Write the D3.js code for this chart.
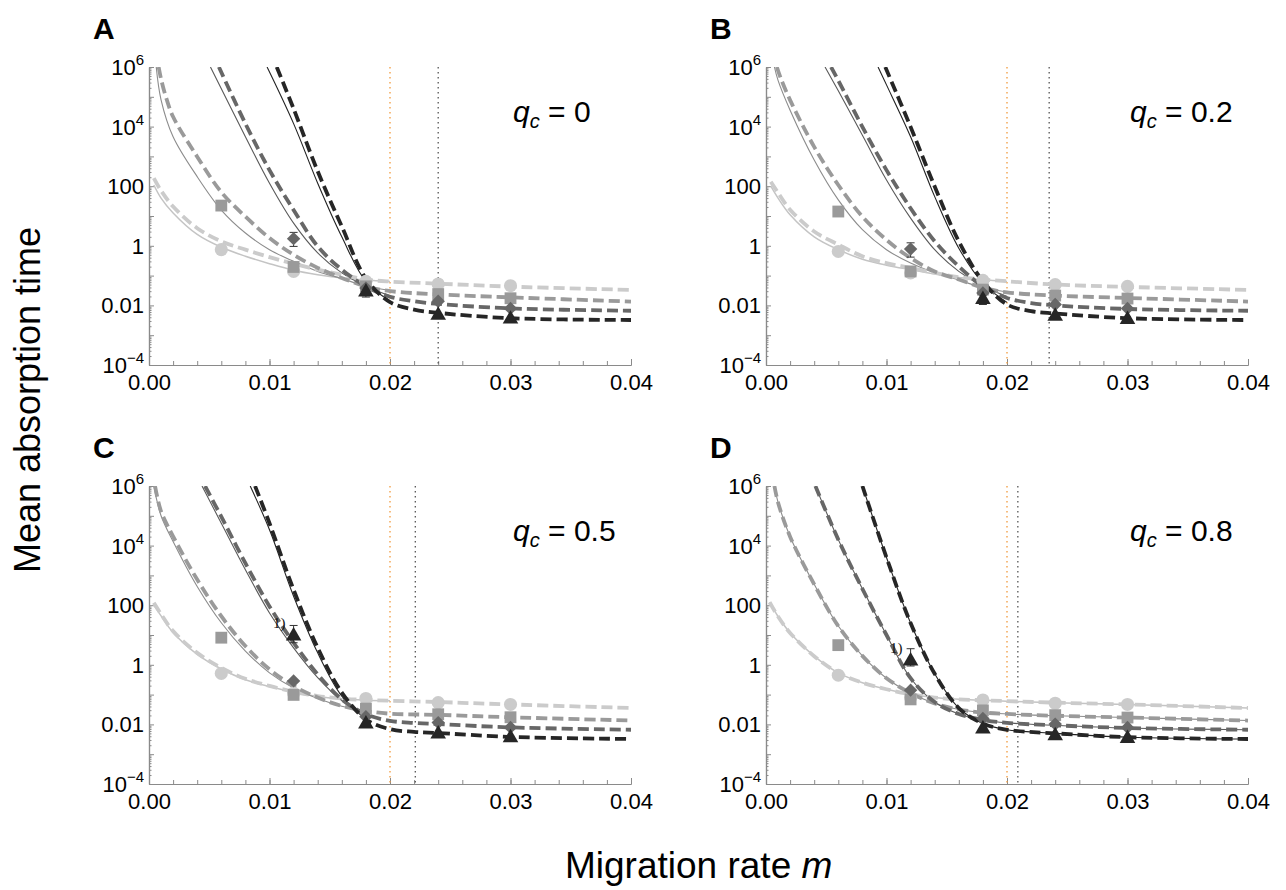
<!DOCTYPE html>
<html>
<head>
<meta charset="utf-8">
<script src="https://cdn.jsdelivr.net/npm/d3@7"></script>
<style>
body { margin: 0; background: #fff; }
svg { font-family: "Liberation Sans", Arial, Helvetica, sans-serif; }
</style>
</head>
<body>
<div class="chart"></div>
<script>
var svgWidth = 1286;
var svgHeight = 890;
var plotWidth = 482;
var plotHeight = 298;
var panelLeft = [149, 766, 149, 766];
var panelTop = [67, 67, 486, 486];

// labels and ticks
var panelLetters = ["A", "B", "C", "D"];
var qcLabels = ["0", "0.2", "0.5", "0.8"];
var mTicks = [0, 0.01, 0.02, 0.03, 0.04];
var yTickExps = [6, 4, 2, 0, -2, -4];
var yTickLabels = [["10", "6"], ["10", "4"], ["100", ""], ["1", ""], ["0.01", ""], ["10", "\u22124"]];
var orangeLineM = 0.02;
var criticalM = [0.024, 0.0235, 0.0221, 0.0209];

// simulated points (log10 of mean absorption time) at these migration rates
var simM = [0.006, 0.012, 0.018, 0.024, 0.03];
var circlesA = [-0.13, -0.86, -1.19, -1.28, -1.34];
var squaresA = [1.35, -0.71, -1.36, -1.62, -1.76];
var diamondsA = [null, 0.24, -1.42, -1.86, -2.1];
var trianglesA = [null, null, -1.5, -2.28, -2.41];
var circlesB = [-0.19, -0.91, -1.16, -1.3, -1.36];
var squaresB = [1.15, -0.86, -1.47, -1.67, -1.77];
var diamondsB = [null, -0.11, -1.58, -1.97, -2.1];
var trianglesB = [null, null, -1.75, -2.31, -2.42];
var circlesC = [-0.29, -0.95, -1.13, -1.27, -1.33];
var squaresC = [0.91, -1.01, -1.47, -1.66, -1.76];
var diamondsC = [null, -0.54, -1.74, -1.94, -2.1];
var trianglesC = [null, 1.02, -1.94, -2.27, -2.4];
var circlesD = [-0.35, -1.1, -1.18, -1.29, -1.33];
var squaresD = [0.66, -1.16, -1.53, -1.69, -1.77];
var diamondsD = [null, -0.85, -1.8, -1.99, -2.1];
var trianglesD = [null, 0.18, -2.1, -2.33, -2.42];

// error bars [m, low, high] (log10)
var errorsA = [[0.012, -0.02, 0.45], [0.018, -1.72, -1.08]];
var errorsB = [[0.012, -0.38, 0.1], [0.018, -1.97, -1.38]];
var errorsC = [[0.012, 0.74, 1.32], [0.018, -2.1, -1.7]];
var errorsD = [[0.012, -0.04, 0.54], [0.018, -2.2, -1.85]];

// "1)" footnote next to a point
var noteM = [null, null, 0.012, 0.012];
var noteV = [null, null, 1.02, 0.18];

// approximation curves [m, log10 time], dashed
var lightDashA = [[0.0004, 2.27], [0.001, 1.85], [0.002, 1.32], [0.004, 0.59], [0.006, 0.15], [0.008, -0.13], [0.010, -0.38], [0.012, -0.6], [0.014, -0.8], [0.016, -0.97], [0.018, -1.13], [0.020, -1.2], [0.024, -1.27], [0.03, -1.37], [0.04, -1.48]];
var mediumDashA = [[0.0008, 6], [0.001, 5.6], [0.0014, 5.0], [0.002, 4.33], [0.004, 2.99], [0.006, 1.8], [0.008, 0.98], [0.010, 0.26], [0.012, -0.3], [0.014, -0.74], [0.016, -1.08], [0.018, -1.36], [0.020, -1.52], [0.024, -1.63], [0.03, -1.73], [0.04, -1.87]];
var darkDashA = [[0.0058, 6], [0.008, 4.1], [0.010, 2.54], [0.012, 1.2], [0.014, -0.02], [0.016, -0.8], [0.018, -1.36], [0.020, -1.71], [0.022, -1.86], [0.024, -1.95], [0.03, -2.1], [0.04, -2.18]];
var blackDashA = [[0.0106, 6], [0.012, 4.6], [0.014, 2.5], [0.016, 0.65], [0.018, -1.1], [0.020, -1.89], [0.022, -2.14], [0.024, -2.25], [0.03, -2.43], [0.04, -2.49]];
var lightDashB = [[0.0004, 2.15], [0.001, 1.78], [0.002, 1.21], [0.004, 0.48], [0.006, 0.04], [0.008, -0.35], [0.010, -0.58], [0.012, -0.74], [0.014, -0.91], [0.016, -1.05], [0.018, -1.13], [0.020, -1.19], [0.024, -1.3], [0.03, -1.38], [0.04, -1.48]];
var mediumDashB = [[0.0009, 6], [0.0012, 5.65], [0.002, 4.89], [0.004, 3.32], [0.006, 2.04], [0.008, 0.98], [0.010, 0.2], [0.012, -0.41], [0.014, -0.86], [0.016, -1.13], [0.018, -1.41], [0.020, -1.56], [0.024, -1.67], [0.03, -1.75], [0.04, -1.87]];
var darkDashB = [[0.0054, 6], [0.006, 5.55], [0.008, 3.99], [0.010, 2.54], [0.012, 1.26], [0.014, 0.15], [0.016, -0.69], [0.018, -1.36], [0.020, -1.75], [0.022, -1.92], [0.024, -2.0], [0.03, -2.12], [0.04, -2.18]];
var blackDashB = [[0.0099, 6], [0.012, 3.99], [0.014, 1.99], [0.016, 0.15], [0.018, -1.19], [0.020, -1.97], [0.022, -2.19], [0.024, -2.27], [0.03, -2.43], [0.04, -2.49]];
var lightDashC = [[0.0004, 2.08], [0.001, 1.7], [0.002, 1.13], [0.004, 0.4], [0.006, -0.1], [0.008, -0.47], [0.010, -0.71], [0.012, -0.9], [0.014, -1.05], [0.016, -1.13], [0.018, -1.18], [0.024, -1.25], [0.03, -1.33], [0.04, -1.45]];
var mediumDashC = [[0.0005, 6], [0.001, 5.15], [0.002, 4.31], [0.004, 2.86], [0.006, 1.63], [0.008, 0.63], [0.010, -0.15], [0.012, -0.71], [0.014, -1.1], [0.016, -1.38], [0.018, -1.55], [0.020, -1.64], [0.024, -1.68], [0.03, -1.76], [0.04, -1.87]];
var darkDashC = [[0.00465, 6], [0.006, 4.97], [0.008, 3.41], [0.010, 1.96], [0.012, 0.74], [0.014, -0.32], [0.016, -1.16], [0.018, -1.66], [0.020, -1.88], [0.022, -1.95], [0.024, -1.99], [0.03, -2.1], [0.04, -2.18]];
var blackDashC = [[0.0088, 6], [0.010, 4.75], [0.012, 2.52], [0.014, 0.57], [0.016, -0.93], [0.018, -1.83], [0.020, -2.16], [0.022, -2.25], [0.024, -2.29], [0.03, -2.42], [0.04, -2.49]];
var lightDashD = [[0.0003, 2.1], [0.001, 1.62], [0.002, 1.07], [0.004, 0.29], [0.006, -0.27], [0.008, -0.6], [0.010, -0.82], [0.012, -0.99], [0.014, -1.1], [0.016, -1.16], [0.018, -1.19], [0.020, -1.22], [0.024, -1.27], [0.03, -1.33], [0.04, -1.45]];
var mediumDashD = [[0.0007, 6], [0.001, 5.45], [0.002, 4.3], [0.004, 2.7], [0.006, 1.3], [0.008, 0.3], [0.010, -0.45], [0.012, -0.95], [0.014, -1.3], [0.016, -1.5], [0.018, -1.6], [0.020, -1.65], [0.024, -1.71], [0.03, -1.77], [0.04, -1.87]];
var darkDashD = [[0.0041, 6], [0.006, 4.2], [0.008, 2.55], [0.010, 1.0], [0.012, -0.45], [0.014, -1.25], [0.016, -1.65], [0.018, -1.85], [0.020, -1.95], [0.024, -2.03], [0.03, -2.12], [0.04, -2.18]];
var blackDashD = [[0.0080, 6], [0.010, 3.6], [0.012, 1.4], [0.014, -0.3], [0.016, -1.45], [0.018, -1.97], [0.020, -2.18], [0.024, -2.3], [0.03, -2.43], [0.04, -2.49]];

// second approximation, thin solid
var lightSolidA = [[0.0004, 2.04], [0.001, 1.6], [0.002, 1.1], [0.004, 0.38], [0.006, -0.05], [0.008, -0.35], [0.010, -0.6], [0.012, -0.82], [0.014, -0.97], [0.016, -1.08], [0.018, -1.15], [0.020, -1.2]];
var mediumSolidA = [[0.0006, 6], [0.001, 4.9], [0.002, 3.66], [0.004, 2.32], [0.006, 1.2], [0.008, 0.43], [0.010, -0.13], [0.012, -0.52], [0.014, -0.86], [0.016, -1.1], [0.018, -1.36], [0.020, -1.5]];
var darkSolidA = [[0.0051, 6], [0.008, 3.66], [0.010, 2.1], [0.012, 0.76], [0.014, -0.24], [0.016, -0.91], [0.018, -1.36], [0.020, -1.68]];
var blackSolidA = [[0.0098, 6], [0.012, 4.1], [0.014, 2.1], [0.016, 0.3], [0.018, -1.2], [0.020, -1.85]];
var lightSolidB = [[0.0004, 2.0], [0.001, 1.6], [0.002, 1.04], [0.004, 0.3], [0.006, -0.13], [0.008, -0.45], [0.010, -0.65], [0.012, -0.8], [0.014, -0.94], [0.016, -1.06], [0.018, -1.14], [0.020, -1.2]];
var mediumSolidB = [[0.0007, 6], [0.001, 5.55], [0.002, 4.55], [0.004, 2.88], [0.006, 1.54], [0.008, 0.54], [0.010, -0.13], [0.012, -0.58], [0.014, -0.91], [0.016, -1.15], [0.018, -1.41], [0.020, -1.55]];
var darkSolidB = [[0.0049, 6], [0.006, 5.2], [0.008, 3.71], [0.010, 2.21], [0.012, 0.93], [0.014, -0.13], [0.016, -0.86], [0.018, -1.36], [0.020, -1.7]];
var blackSolidB = [[0.0093, 6], [0.010, 5.4], [0.012, 3.66], [0.014, 1.65], [0.016, -0.08], [0.018, -1.25], [0.020, -1.9]];
var lightSolidC = [[0.0004, 2.0], [0.001, 1.64], [0.002, 1.08], [0.004, 0.35], [0.006, -0.14], [0.008, -0.5], [0.010, -0.73], [0.012, -0.92], [0.014, -1.06], [0.016, -1.14], [0.018, -1.19], [0.020, -1.21]];
var mediumSolidC = [[0.0004, 6], [0.001, 5.0], [0.002, 4.14], [0.004, 2.63], [0.006, 1.41], [0.008, 0.46], [0.010, -0.27], [0.012, -0.78], [0.014, -1.13], [0.016, -1.39], [0.018, -1.55]];
var darkSolidC = [[0.0044, 6], [0.006, 4.75], [0.008, 3.19], [0.010, 1.74], [0.012, 0.57], [0.014, -0.43], [0.016, -1.2], [0.018, -1.66]];
var blackSolidC = [[0.0084, 6], [0.010, 4.53], [0.012, 2.3], [0.014, 0.4], [0.016, -1.05], [0.018, -1.83]];
// in D both approximations coincide
var lightSolidD = lightDashD;
var mediumSolidD = mediumDashD;
var darkSolidD = darkDashD;
var blackSolidD = blackDashD;

var seriesColor = ["#cbcbcb", "#9a9a9a", "#676767", "#262626"];
var solidColor = ["#c4c4c4", "#8c8c8c", "#5a5a5a", "#222222"];

var panels = [
    { points: [circlesA, squaresA, diamondsA, trianglesA], dash: [lightDashA, mediumDashA, darkDashA, blackDashA], solid: [lightSolidA, mediumSolidA, darkSolidA, blackSolidA], errors: errorsA },
    { points: [circlesB, squaresB, diamondsB, trianglesB], dash: [lightDashB, mediumDashB, darkDashB, blackDashB], solid: [lightSolidB, mediumSolidB, darkSolidB, blackSolidB], errors: errorsB },
    { points: [circlesC, squaresC, diamondsC, trianglesC], dash: [lightDashC, mediumDashC, darkDashC, blackDashC], solid: [lightSolidC, mediumSolidC, darkSolidC, blackSolidC], errors: errorsC },
    { points: [circlesD, squaresD, diamondsD, trianglesD], dash: [lightDashD, mediumDashD, darkDashD, blackDashD], solid: [lightSolidD, mediumSolidD, darkSolidD, blackSolidD], errors: errorsD }
];

var svg = d3.select(".chart").append("svg")
    .attr("width", svgWidth)
    .attr("height", svgHeight);

var xScale = d3.scaleLinear().domain([0, 0.04]).range([0, plotWidth]);
var yScale = d3.scaleLog().domain([1e-4, 1e6]).range([plotHeight, 0]);
var pow = function (v) { return Math.pow(10, v); };

var line = d3.line()
    .x(d => xScale(d[0]))
    .y(d => yScale(pow(d[1])))
    .curve(d3.curveCatmullRom.alpha(0.5));

var minorX = d3.range(0, 0.0401, 0.002);
var minorY = [];
for (var k = -4; k < 6; k++) {
    for (var j = 2; j < 10; j++) minorY.push(j * pow(k));
}

var symbols = [d3.symbolCircle, d3.symbolSquare, d3.symbolSquare, d3.symbolTriangle];
var symbolSize = [135, 140, 90, 105];

panels.forEach(function (p, i) {
    var g = svg.append("g").attr("transform", `translate(${panelLeft[i]}, ${panelTop[i]})`);

    g.append("clipPath").attr("id", "clip" + i)
        .append("rect").attr("x", 0).attr("y", 0).attr("width", plotWidth + 2).attr("height", plotHeight);

    // axes
    g.append("g").attr("transform", `translate(0,${plotHeight})`)
        .call(d3.axisBottom(xScale).tickValues(minorX).tickSize(-4).tickSizeOuter(0).tickFormat(""));
    var xMajor = g.append("g").attr("transform", `translate(0,${plotHeight})`)
        .call(d3.axisBottom(xScale).tickValues(mTicks).tickSize(-6).tickSizeOuter(0).tickFormat(d3.format(".2f")));
    g.append("g")
        .call(d3.axisLeft(yScale).tickValues(minorY).tickSize(-2.5).tickSizeOuter(0).tickFormat(""));
    g.append("g")
        .call(d3.axisLeft(yScale).tickValues(d3.range(-4, 7).map(pow)).tickSize(-5).tickSizeOuter(0).tickFormat(""));

    g.selectAll(".domain").attr("stroke", "#8a8a8a").attr("stroke-width", 1.2);
    g.selectAll(".tick line").attr("stroke", "#8a8a8a");
    xMajor.selectAll(".tick text")
        .attr("y", 25).attr("dy", 0)
        .attr("font-size", 22).attr("fill", "#000")
        .attr("font-family", "Liberation Sans, Arial, sans-serif");

    // y tick labels with superscripts
    yTickExps.forEach(function (e, t) {
        var txt = g.append("text")
            .attr("x", -5)
            .attr("y", yScale(pow(e)) + 8)
            .attr("text-anchor", "end")
            .attr("font-size", 22)
            .text(yTickLabels[t][0]);
        if (yTickLabels[t][1]) {
            txt.append("tspan").attr("dy", -10).attr("font-size", 15).text(yTickLabels[t][1]);
        }
    });

    var plot = g.append("g").attr("clip-path", `url(#clip${i})`);

    // vertical reference lines
    plot.append("line")
        .attr("x1", xScale(orangeLineM)).attr("x2", xScale(orangeLineM))
        .attr("y1", 0).attr("y2", plotHeight)
        .attr("stroke", "#f29a3c").attr("stroke-width", 1.3).attr("stroke-dasharray", "1.5,3.5");
    plot.append("line")
        .attr("x1", xScale(criticalM[i])).attr("x2", xScale(criticalM[i]))
        .attr("y1", 0).attr("y2", plotHeight)
        .attr("stroke", "#555").attr("stroke-width", 1.3).attr("stroke-dasharray", "1.5,3.5");

    // solid thin curves
    p.solid.forEach(function (s, c) {
        plot.append("path").datum(s)
            .attr("d", line)
            .attr("fill", "none")
            .attr("stroke", solidColor[c])
            .attr("stroke-width", c == 0 ? 1.5 : 1.1);
    });

    // dashed curves
    p.dash.forEach(function (s, c) {
        plot.append("path").datum(s)
            .attr("d", line)
            .attr("fill", "none")
            .attr("stroke", seriesColor[c])
            .attr("stroke-width", 3.8)
            .attr("stroke-dasharray", "11,5");
    });

    // error bars
    p.errors.forEach(function (e) {
        var ex = xScale(e[0]);
        var eg = plot.append("g").attr("stroke", "#333").attr("stroke-width", 1);
        eg.append("line").attr("x1", ex).attr("x2", ex).attr("y1", yScale(pow(e[1]))).attr("y2", yScale(pow(e[2])));
        eg.append("line").attr("x1", ex - 4).attr("x2", ex + 4).attr("y1", yScale(pow(e[1]))).attr("y2", yScale(pow(e[1])));
        eg.append("line").attr("x1", ex - 4).attr("x2", ex + 4).attr("y1", yScale(pow(e[2]))).attr("y2", yScale(pow(e[2])));
    });

    // simulated points
    p.points.forEach(function (vals, c) {
        var pts = simM.map((m, n) => [m, vals[n]]).filter(d => d[1] !== null);
        plot.selectAll(".pt" + c).data(pts).enter()
            .append("path")
            .attr("d", d3.symbol().type(symbols[c]).size(symbolSize[c]))
            .attr("transform", d => `translate(${xScale(d[0])},${yScale(pow(d[1])) + (c == 3 ? 1.5 : 0)})` + (c == 2 ? " rotate(45)" : ""))
            .attr("fill", seriesColor[c]);
    });

    if (noteM[i] !== null) {
        g.append("text")
            .attr("x", xScale(noteM[i]) - 8)
            .attr("y", yScale(pow(noteV[i])) - 6)
            .attr("text-anchor", "end")
            .attr("fill", "#111")
            .attr("font-family", "Liberation Serif, Times New Roman, serif")
            .attr("font-size", 15)
            .text("1)");
    }

    // panel letter and q_c label
    g.append("text")
        .attr("x", -56).attr("y", -28)
        .attr("font-size", 30).attr("font-weight", "bold")
        .text(panelLetters[i]);
    var q = g.append("text")
        .attr("x", 364).attr("y", 55)
        .attr("font-size", 30);
    q.append("tspan").attr("font-style", "italic").text("q");
    q.append("tspan").attr("font-style", "italic").attr("font-size", 20).attr("dy", 6).text("c");
    q.append("tspan").attr("dy", -6).text(" = " + qcLabels[i]);
});

svg.append("text")
    .attr("transform", "translate(40, 400) rotate(-90)")
    .attr("text-anchor", "middle")
    .attr("font-size", 36)
    .text("Mean absorption time");

var xt = svg.append("text")
    .attr("x", 565).attr("y", 878)
    .attr("font-size", 37);
xt.append("tspan").text("Migration rate ");
xt.append("tspan").attr("font-style", "italic").text("m");
</script>
</body>
</html>
